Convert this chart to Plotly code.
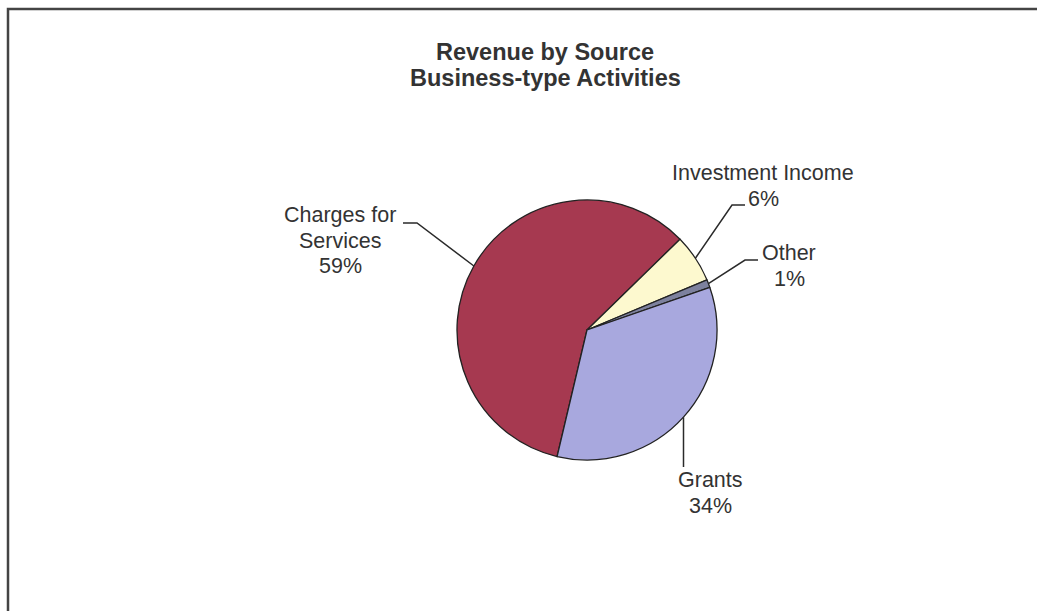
import math
import plotly.graph_objects as go

# Revenue shares (percent), listed clockwise starting with Charges for Services
categories = ["Charges for Services", "Investment Income", "Other", "Grants"]
shares = [59, 6, 1, 34]
label_lines = [["Charges for", "Services", "59%"],
               ["Investment Income", "6%"],
               ["Other", "1%"],
               ["Grants", "34%"]]
slice_colors = ["#A63950", "#FDF9CF", "#7D819E", "#A8A8DE"]

title_lines = ["Revenue by Source", "Business-type Activities"]

# Canvas and pie geometry (pixels)
W, H = 1037, 611
CX, CY, R = 587, 330, 130
START_ANGLE = 193.3  # clockwise from 12 o'clock, where the first slice begins

FONT = "Arial, 'Liberation Sans', sans-serif"
TEXT_COLOR = "#333333"
LABEL_SIZE = 21.5
LINE_STEP = 25.5

# Centre of the first text line of each label, and leader-line elbow/end points
label_pos = [(340, 215), (763, 173), (789, 253), (710, 480)]
leader_knees = [[(417, 223), (403, 223)],
                [(732, 205), (745, 205)],
                [(745, 260), (758, 260)],
                None]
grants_line_bottom = 467

fig = go.Figure()

fig.add_trace(go.Pie(
    labels=categories,
    values=shares,
    sort=False,
    direction="clockwise",
    rotation=START_ANGLE,
    marker=dict(colors=slice_colors, line=dict(color="#222222", width=1.3)),
    textinfo="none",
    hoverinfo="label+percent",
    showlegend=False,
    domain=dict(x=[(CX - R) / W, (CX + R) / W], y=[1 - (CY + R) / H, 1 - (CY - R) / H]),
))

# Invisible pixel-space axes for the leader lines and labels
fig.add_trace(go.Scatter(x=[0, W], y=[0, H], mode="markers", marker=dict(opacity=0),
                         hoverinfo="skip", showlegend=False))

total = sum(shares)
cum = 0.0
shapes = []
annotations = []
for i, v in enumerate(shares):
    mid = START_ANGLE + 360.0 * (cum + v / 2) / total
    cum += v
    a = math.radians(mid)
    ex, ey = CX + R * math.sin(a), CY - R * math.cos(a)
    if leader_knees[i] is None:
        pts = [(ex, ey), (ex, grants_line_bottom)]
    else:
        pts = [(ex, ey)] + leader_knees[i]
    path = "M " + " L ".join(f"{px:.1f},{py:.1f}" for px, py in pts)
    shapes.append(dict(type="path", xref="x", yref="y", path=path,
                       line=dict(color="#2a2a2a", width=1.5)))
    lx, ly = label_pos[i]
    for k, line in enumerate(label_lines[i]):
        annotations.append(dict(x=lx, y=ly + k * LINE_STEP, xref="x", yref="y", text=line,
                                showarrow=False, xanchor="center", yanchor="middle",
                                font=dict(family=FONT, size=LABEL_SIZE, color=TEXT_COLOR)))

for k, line in enumerate(title_lines):
    annotations.append(dict(x=545, y=52 + k * 26, xref="x", yref="y", text=f"<b>{line}</b>",
                            showarrow=False, xanchor="center", yanchor="middle",
                            font=dict(family=FONT, size=23.5, color=TEXT_COLOR)))

# Chart frame
shapes.append(dict(type="rect", xref="x", yref="y", x0=8, y0=9, x1=W + 20, y1=H + 20,
                   line=dict(color="#444444", width=2.5)))

fig.update_layout(
    width=W, height=H,
    margin=dict(l=0, r=0, t=0, b=0),
    paper_bgcolor="white", plot_bgcolor="rgba(0,0,0,0)",
    xaxis=dict(range=[0, W], visible=False, fixedrange=True, domain=[0, 1]),
    yaxis=dict(range=[H, 0], visible=False, fixedrange=True, domain=[0, 1]),
    shapes=shapes,
    annotations=annotations,
)

fig.write_html("out.html")
